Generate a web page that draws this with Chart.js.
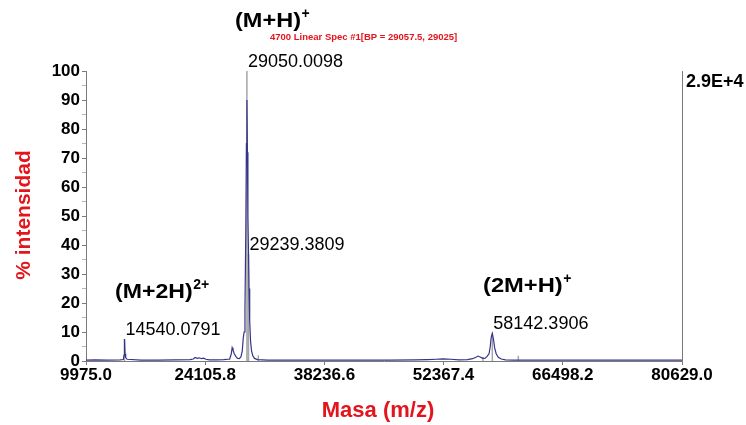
<!DOCTYPE html>
<html>
<head>
<meta charset="utf-8">
<script src="https://cdn.jsdelivr.net/npm/chart.js@4/dist/chart.umd.min.js"></script>
<style>
  html, body { margin: 0; padding: 0; background: #ffffff; }
  canvas { display: block; }
</style>
</head>
<body>
<canvas id="spectrum" width="746" height="425"></canvas>
<script>
// Mass axis tick positions (m/z)
const massAxisTicks = [9975.0, 24105.8, 38236.6, 52367.4, 66498.2, 80629.0];

// MALDI linear spectrum trace: m/z and relative intensity (%)
const spectrumMass = [
  9975, 11000, 12500, 14000, 14400, 14480, 14540, 14600, 14680, 14850,
  16500, 18500, 20500, 22300, 22700, 22900, 23150, 23400, 23650, 23900,
  24200, 24600, 25500, 26300, 26800, 27000, 27200, 27300, 27400, 27550,
  27750, 27950, 28150, 28350, 28500, 28620, 28720, 28820, 28920, 28990,
  29050, 29110, 29170, 29239, 29300, 29380, 29480, 29600, 29750, 29950,
  30300, 31500, 34000, 38000, 42000, 46000, 49000, 50500, 51500, 52300,
  53200, 54200, 55200, 55800, 56200, 56450, 56700, 57000, 57300, 57500,
  57750, 57900, 58000, 58142, 58280, 58420, 58600, 58850, 59200, 59700,
  60600, 62000, 66000, 70000, 75000, 80629
];
const spectrumIntensity = [
  0.3, 0.4, 0.3, 0.4, 0.5, 2.0, 7.6, 2.5, 1.2, 0.6,
  0.3, 0.3, 0.4, 0.5, 0.7, 1.2, 0.9, 1.1, 0.8, 1.0,
  0.6, 0.4, 0.4, 0.5, 0.6, 0.6, 2.5, 4.6, 3.8, 2.5,
  1.5, 0.9, 0.8, 1.5, 3.5, 8.0, 10.0, 18.0, 45.0, 75.0,
  90.0, 72.0, 50.0, 37.0, 25.0, 14.0, 7.0, 3.5, 1.8, 0.9,
  0.5, 0.3, 0.3, 0.3, 0.3, 0.3, 0.4, 0.5, 0.6, 0.7,
  0.6, 0.4, 0.5, 0.8, 1.3, 1.7, 1.4, 0.9, 1.0, 1.5,
  2.5, 5.0, 8.0, 9.5, 7.5, 4.5, 2.5, 1.3, 0.7, 0.4,
  0.3, 0.3, 0.3, 0.3, 0.3, 0.3
];

// Labelled peaks (centroid m/z and their marker height in %)
const peakMass = [14540.0791, 29050.0098, 29239.3809, 58142.3906];
const peakIntensity = [7.6, 100, 37, 9.5];
const peakLabels = ['14540.0791', '29050.0098', '29239.3809', '58142.3906'];

// Unlabelled peak-picking markers
const markerMass = [30400, 57040, 61225];
const markerIntensity = [2.0, 1.5, 1.8];

// Ion assignments
const ionNames = ['(M+H)', '(M+2H)', '(2M+H)'];
const ionCharges = ['+', '2+', '+'];

const specTitle = '4700 Linear Spec #1[BP = 29057.5, 29025]';
const fullScale = '2.9E+4';
const yTitle = '% intensidad';
const xTitle = 'Masa (m/z)';

const FONT = "'Liberation Sans', Arial, Helvetica, sans-serif";
const RED = '#e3141c';

// Stick markers as vertical segments separated by gaps
function sticks(masses, heights) {
  const out = [];
  masses.forEach((m, i) => {
    out.push({ x: m, y: 0 }, { x: m, y: heights[i] }, { x: m, y: null });
  });
  return out;
}

function drawText(ctx, s, x, y, font, color, sx) {
  ctx.save();
  ctx.font = font;
  ctx.fillStyle = color;
  ctx.textAlign = 'left';
  ctx.textBaseline = 'alphabetic';
  ctx.translate(x, y);
  ctx.scale(sx || 1, 1);
  ctx.fillText(s, 0, 0);
  const w = ctx.measureText(s).width * (sx || 1);
  ctx.restore();
  return w;
}

// Ion label with superscript charge
function drawIon(ctx, name, charge, x, y, size, supSize, supRise, sx) {
  const w = drawText(ctx, name, x, y, 'bold ' + size + 'px ' + FONT, '#000', sx);
  drawText(ctx, charge, x + w + 0.5, y - supRise, 'bold ' + supSize + 'px ' + FONT, '#000', 1);
}

const annotations = {
  id: 'annotations',
  afterDatasetsDraw(chart) {
    const { ctx, chartArea: a, scales: { x, y } } = chart;

    // right-hand frame line
    ctx.save();
    ctx.strokeStyle = '#7a7a7a';
    ctx.lineWidth = 1;
    ctx.beginPath();
    ctx.moveTo(Math.round(a.right) + 0.5, a.top);
    ctx.lineTo(Math.round(a.right) + 0.5, a.bottom);
    ctx.stroke();
    ctx.restore();

    drawText(ctx, fullScale, a.right + 4, a.top + 16, 'bold 18px ' + FONT, '#000', 1);

    // peak m/z labels above each marker
    peakMass.forEach((m, i) => {
      drawText(ctx, peakLabels[i], x.getPixelForValue(m) + 1, y.getPixelForValue(peakIntensity[i]) - 4,
        '18px ' + FONT, '#000', 1);
    });

    // spectrum header
    drawText(ctx, specTitle, 270, 40, 'bold 9.5px ' + FONT, RED, 1);

    // ion assignments
    drawIon(ctx, ionNames[0], ionCharges[0], 235, 27, 21, 14, 9, 1.12);
    drawIon(ctx, ionNames[1], ionCharges[1], 115, 298, 21, 14, 9, 1.1);
    drawIon(ctx, ionNames[2], ionCharges[2], 483, 292, 21, 14, 9, 1.13);

    // axis titles
    ctx.save();
    ctx.font = 'bold 22px ' + FONT;
    ctx.fillStyle = RED;
    ctx.textAlign = 'center';
    ctx.textBaseline = 'alphabetic';
    ctx.fillText(xTitle, 378, 417);
    ctx.translate(30, 215);
    ctx.rotate(-Math.PI / 2);
    ctx.font = 'bold 21px ' + FONT;
    ctx.fillText(yTitle, 0, 0);
    ctx.restore();
  }
};

new Chart(document.getElementById('spectrum'), {
  type: 'line',
  data: {
    datasets: [
      {
        label: 'spectrum',
        data: spectrumMass.map((m, i) => ({ x: m, y: spectrumIntensity[i] })),
        borderColor: '#34348a',
        borderWidth: 1.2,
        pointRadius: 0,
        tension: 0,
        fill: false
      },
      {
        label: 'peaks',
        data: sticks(peakMass.concat(markerMass), peakIntensity.concat(markerIntensity)),
        borderColor: '#a6a6a6',
        borderWidth: 1.5,
        pointRadius: 0,
        spanGaps: false,
        fill: false
      }
    ]
  },
  options: {
    responsive: false,
    animation: false,
    layout: { padding: { top: 71, right: 64, left: 0, bottom: 0 } },
    plugins: {
      legend: { display: false },
      tooltip: { enabled: false },
      title: { display: false }
    },
    scales: {
      x: {
        type: 'linear',
        min: massAxisTicks[0],
        max: massAxisTicks[massAxisTicks.length - 1],
        afterBuildTicks: s => { s.ticks = massAxisTicks.map(v => ({ value: v })); },
        afterFit: s => { s.height = 64; },
        ticks: {
          autoSkip: false,
          maxRotation: 0,
          padding: 0,
          color: '#000',
          font: { family: FONT, size: 17, weight: 'bold' },
          callback: v => Number(v).toFixed(1)
        },
        grid: { drawOnChartArea: false, drawTicks: true, tickLength: 4, color: '#7a7a7a' },
        border: { display: true, color: '#7a7a7a' }
      },
      y: {
        min: 0,
        max: 100,
        afterFit: s => { s.width = 86; },
        ticks: {
          stepSize: 5,
          autoSkip: false,
          padding: 2,
          color: '#000',
          font: { family: FONT, size: 17, weight: 'bold' },
          callback: v => (v % 10 === 0 ? v : '')
        },
        grid: {
          drawOnChartArea: false,
          drawTicks: true,
          tickLength: 4,
          tickColor: c => (c.tick && c.tick.value % 10 === 0 ? '#7a7a7a' : '#b5b5b5')
        },
        border: { display: true, color: '#7a7a7a' }
      }
    }
  },
  plugins: [annotations]
});
</script>
</body>
</html>
